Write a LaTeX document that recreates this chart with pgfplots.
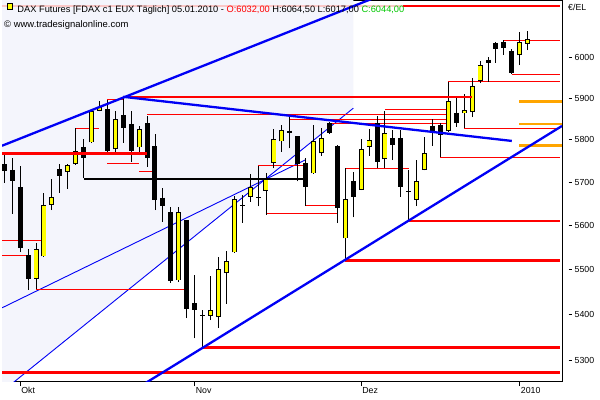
\documentclass[border=0pt]{standalone}
\usepackage{pgfplots}
\pgfplotsset{compat=1.18}
\usepackage{pgfplotstable}
\usepackage{fontspec}
\setmainfont{Liberation Sans}
\definecolor{cyel}{RGB}{255,255,0}
\definecolor{shade}{RGB}{244,245,252}
\definecolor{cblue}{RGB}{0,0,245}
\definecolor{corange}{RGB}{255,165,0}
\definecolor{cpink}{RGB}{250,200,200}
\definecolor{cgreen}{RGB}{0,200,0}

\pgfplotstableread{
i o h l c
0 5743 5764 5699 5727
1 5729 5757 5627 5704
2 5689 5738 5540 5550
3 5533 5548 5455 5480
4 5480 5561 5456 5546
5 5530 5676 5529 5647
6 5648 5707 5636 5666
7 5731 5743 5676 5716
8 5724 5743 5685 5740
9 5743 5828 5741 5773
10 5782 5801 5710 5758
11 5794 5875 5792 5870
12 5870 5893 5868 5879
13 5874 5896 5768 5774
14 5778 5870 5768 5849
15 5859 5903 5793 5828
16 5838 5870 5748 5774
17 5782 5833 5764 5825
18 5840 5856 5737 5756
19 5786 5814 5636 5658
20 5665 5686 5609 5644
21 5631 5642 5471 5475
22 5476 5643 5473 5632
23 5612 5613 5392 5412
24 5425 5488 5348 5410
25 5399 5411 5326 5397
26 5397 5486 5388 5410
27 5394 5528 5370 5501
28 5492 5543 5424 5519
29 5539 5668 5538 5661
30 5647 5671 5607 5645
31 5667 5720 5655 5690
32 5666 5738 5644 5664
33 5681 5721 5625 5709
34 5745 5825 5733 5801
35 5796 5835 5772 5824
36 5822 5855 5780 5817
37 5809 5810 5702 5743
38 5745 5757 5645 5689
39 5721 5835 5720 5796
40 5768 5828 5762 5804
41 5840 5843 5814 5816
42 5786 5788 5606 5640
43 5571 5733 5522 5661
44 5703 5725 5619 5666
45 5683 5801 5682 5778
46 5784 5825 5762 5800
47 5840 5858 5733 5748
48 5754 5870 5733 5816
49 5804 5824 5752 5788
50 5804 5824 5667 5690
51 5680 5729 5612 5678
52 5660 5752 5645 5703
53 5729 5806 5728 5768
54 5833 5849 5786 5820
55 5835 5840 5760 5811
56 5820 5940 5819 5893
57 5865 5902 5831 5840
58 5863 5910 5828 5871
59 5866 5948 5854 5929
60 5942 5990 5936 5980
61 5994 6001 5940 5985
62 6035 6036 5986 6019
63 6037 6041 6005 6021
64 6015 6019 5958 5960
65 6004 6062 5980 6036
66 6032 6064.5 6017 6044
}\ohlc

\newcommand\drawcandle[5]{%
  \addplot[black, line width=0.9bp] coordinates {(#1,#4) (#1,#3)};
  \ifdim #5pt>#2pt
    \addplot[black, line width=5bp] coordinates {(#1,#2) (#1,#5)};
    \addplot[cyel, line width=3.2bp, shorten <=0.9bp, shorten >=0.9bp] coordinates {(#1,#2) (#1,#5)};
  \else
    \addplot[black, line width=5bp] coordinates {(#1,#2) (#1,#5)};
  \fi
}
\newcommand\tk{\rule[0.3em]{3.5bp}{0.8bp}\hspace{2.5bp}}

\begin{document}
\begin{tikzpicture}
\useasboundingbox (0,0) rectangle (600bp,400bp);
\begin{axis}[
  at={(2bp,19bp)}, anchor=south west,
  width=560bp, height=380bp, scale only axis,
  xmin=-0.29, xmax=70.33, ymin=5255.2, ymax=6139,
  y coord trafo/.code={\pgfmathparse{1000*ln(#1)}},
  y coord inv trafo/.code={\pgfmathparse{exp(#1/1000)}},
  no markers,
  axis background/.style={fill=white},
  axis line style={black, line width=1bp},
  xtick={2,24,45,65}, xticklabels={Okt,Nov,Dez,2010},
  xtick pos=bottom, ytick pos=right, yticklabel pos=right,
  tick align=outside, major tick length=5bp,
  xtick style={black, line width=0.7bp},
  ytick style={draw=none},
  ytick={5300,5400,5500,5600,5700,5800,5900,6000},
  yticklabels={\tk 5300,\tk 5400,\tk 5500,\tk 5600,\tk 5700,\tk 5800,\tk 5900,\tk 6000},
  xticklabel style={anchor=north west, inner sep=0pt, font=\fontsize{8.8}{10}\selectfont, xshift=1bp, yshift=-1bp},
  yticklabel style={anchor=west, inner sep=0pt, font=\fontsize{8.8}{10}\selectfont, xshift=1.5bp},
  thinred/.style={red, line width=1bp},
  thickred/.style={red, line width=2.4bp},
]
% shaded zone
\addplot[fill=shade, draw=none] coordinates {(-0.29,6150) (44.01,6150) (44.01,5875.5) (-0.29,5232.4)};
% thin blue lines
\addplot[cblue, line width=0.9bp] coordinates {(-0.29,5414.9) (37.92,5752.5)};
\addplot[cblue, line width=0.9bp] coordinates {(-0.29,5232.4) (44.01,5875.5)};
% thin red lines
\addplot[thinred] coordinates {(-0.29,5565.2) (5,5565.2)};
\addplot[thinred] coordinates {(-0.29,5533) (3,5533)};
\addplot[thinred] coordinates {(4,5456.4) (23,5456.4)};
\addplot[thinred] coordinates {(9,5827.6) (12,5827.6)};
\addplot[thinred] coordinates {(13,5897) (15,5897)};
\addplot[thinred] coordinates {(13,5743.2) (17,5743.2)};
\addplot[thinred] coordinates {(17,5725.1) (19,5725.1)};
\addplot[thinred] coordinates {(18,5859.7) (56,5859.7)};
\addplot[thinred] coordinates {(36,5849.1) (56,5849.1)};
\addplot[thinred] coordinates {(48,5871.4) (56,5871.4)};
\addplot[thinred] coordinates {(41,5839.1) (56,5839.1)};
\addplot[thinred] coordinates {(32,5739.1) (38,5739.1)};
\addplot[thinred] coordinates {(38,5645.4) (42,5645.4)};
\addplot[thinred] coordinates {(33,5628.6) (42,5628.6)};
\addplot[thinred] coordinates {(43,5733.1) (51,5733.1)};
\addplot[thinred] coordinates {(55,5758.8) (70.07,5758.8)};
\addplot[thinred] coordinates {(58,5827.6) (70.07,5827.6)};
\addplot[thinred] coordinates {(56,5940.6) (70.07,5940.6)};
\addplot[thinred] coordinates {(63,6040.2) (70.07,6040.2)};
\addplot[thinred] coordinates {(64,5958.4) (70.07,5958.4)};
% candles
\pgfplotsinvokeforeach{0,...,66}{%
  \pgfplotstablegetelem{#1}{o}\of\ohlc \let\cO\pgfplotsretval
  \pgfplotstablegetelem{#1}{h}\of\ohlc \let\cH\pgfplotsretval
  \pgfplotstablegetelem{#1}{l}\of\ohlc \let\cL\pgfplotsretval
  \pgfplotstablegetelem{#1}{c}\of\ohlc \let\cC\pgfplotsretval
  \pgfplotstablegetelem{#1}{i}\of\ohlc \let\cI\pgfplotsretval
  \edef\tmp{\noexpand\drawcandle{\cI}{\cO}{\cH}{\cL}{\cC}}\tmp
}
% thick horizontal lines
\addplot[cpink, line width=2.4bp] coordinates {(-0.29,6126.5) (50.28,6126.5)};
\addplot[thickred] coordinates {(50.28,6126.5) (70.07,6126.5)};
\addplot[thickred] coordinates {(15,5902.6) (58.95,5902.6)};
\addplot[thickred] coordinates {(-0.29,5768.3) (17.96,5768.3)};
\addplot[thickred] coordinates {(51,5610.9) (70.07,5610.9)};
\addplot[thickred] coordinates {(43,5520.5) (70.07,5520.5)};
\addplot[thickred] coordinates {(25,5328) (70.07,5328)};
\addplot[thickred] coordinates {(-0.29,5273.5) (70.07,5273.5)};
\addplot[black, line width=2.4bp] coordinates {(10,5707.9) (37.7,5707.9)};
\addplot[corange, line width=2.4bp] coordinates {(64.94,5891.3) (70.33,5891.3)};
\addplot[corange, line width=2.4bp] coordinates {(64.94,5837.9) (70.33,5837.9)};
\addplot[corange, line width=2.4bp] coordinates {(64.94,5786.4) (70.33,5786.4)};
% thick blue trend lines
\addplot[cblue, line width=2.3bp] coordinates {(-0.29,5785.8) (47.38,6152.6)};
\addplot[cblue, line width=2.3bp] coordinates {(15.0,5903.3) (64.0,5797.4)};
\addplot[cblue, line width=2.3bp] coordinates {(15.85,5230.3) (70.33,5833.1)};
\end{axis}
% header
\fill[cyel, draw=black, line width=0.8bp] (7.3bp,390.3bp) rectangle (12.7bp,396.5bp);
\node[anchor=base west, inner sep=0pt, font=\fontsize{9.3}{11}\selectfont] at (17.3bp,387.7bp)
  {DAX Futures [FDAX c1 EUX Täglich] 05.01.2010 - \textcolor{red}{O:6032,00} H:6064,50 L:6017,00 \textcolor{cgreen}{C:6044,00}};
\node[anchor=base west, inner sep=0pt, font=\fontsize{9.5}{11}\selectfont] at (4bp,372.7bp) {© www.tradesignalonline.com};
\node[anchor=base west, inner sep=0pt, font=\fontsize{8.8}{10}\selectfont] at (568bp,389bp) {€/EL};
\end{tikzpicture}
\end{document}
